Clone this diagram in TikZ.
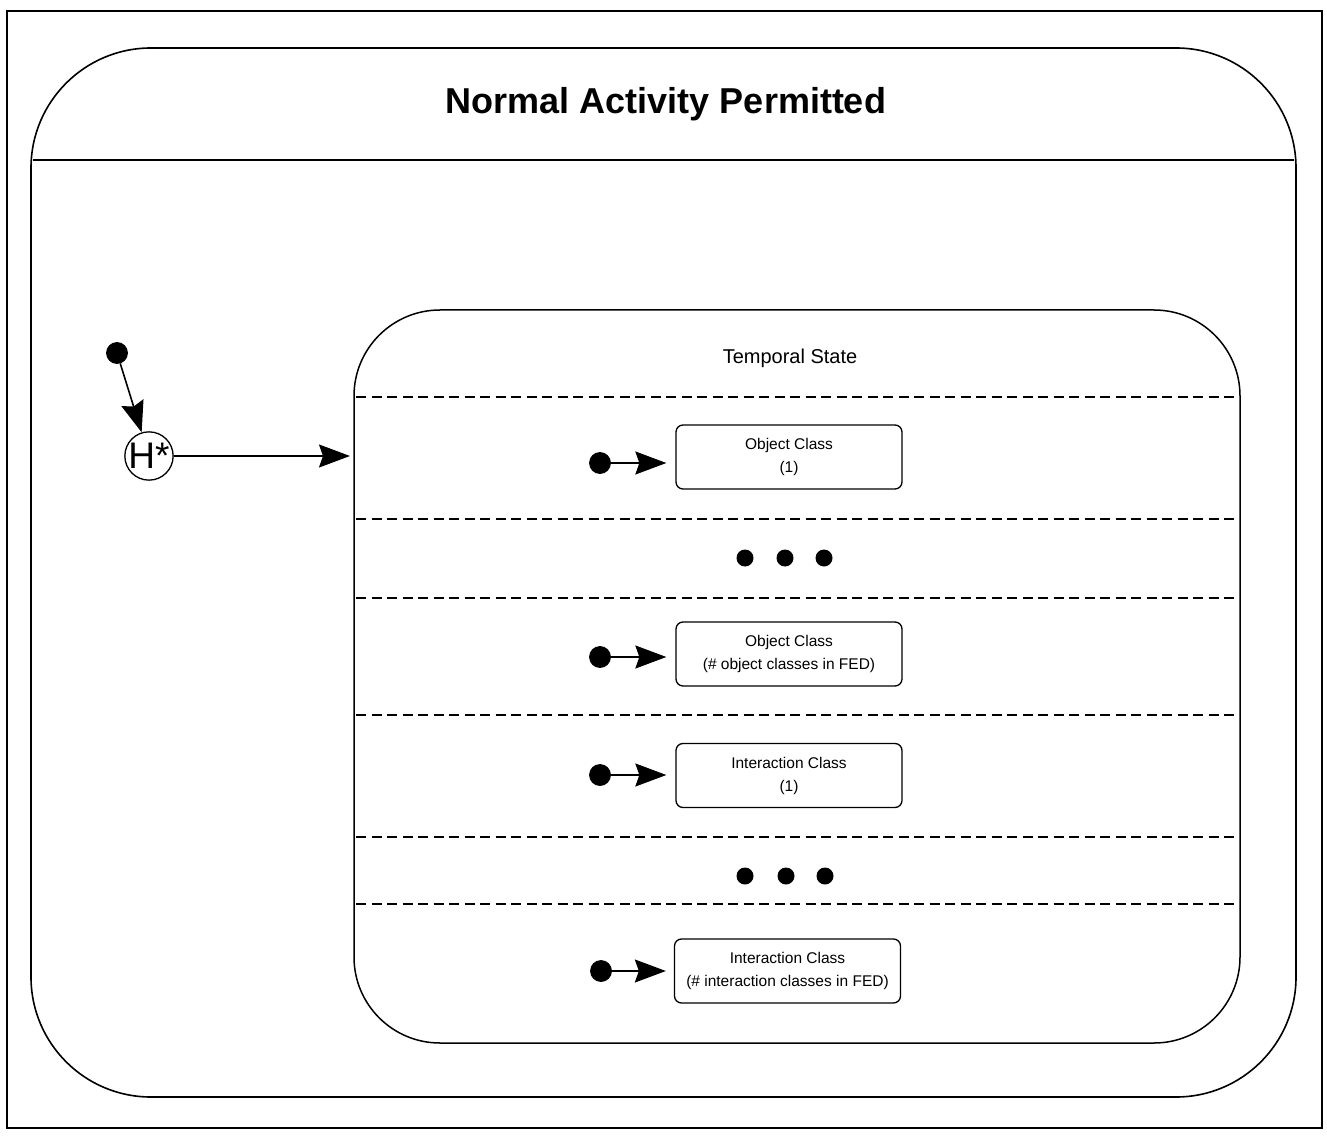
\documentclass[tikz,border=0pt]{standalone}
\usepackage{fontspec}
\setmainfont{Liberation Sans}
\usetikzlibrary{arrows.meta}
\begin{document}
\begin{tikzpicture}[x=1pt,y=-1pt,
  statebox/.style={draw, line width=1.3pt, rounded corners=7pt, minimum width=226pt, minimum height=64pt,
    align=center, font=\fontsize{15.5}{23}\selectfont, inner sep=0pt},
  initdot/.style={circle, fill=black, draw=black, line width=0.8pt, minimum size=21pt, inner sep=0pt},
  ellipsisdot/.style={circle, fill=black, minimum size=17pt, inner sep=0pt},
  flow/.style={line width=1.6pt, -{Stealth[length=31pt,width=23pt,inset=4pt]}},
  region/.style={line width=2.2pt, dash pattern=on 10pt off 5.5pt},
  frame/.style={line width=1.6pt, rounded corners=120pt}
]
\useasboundingbox (0,0) rectangle (1327,1139);
% page border
\draw[line width=2.6pt] (7,11) rectangle (1322,1128);

% outer composite state
\draw[frame] (31,48) rectangle (1296,1097);
\draw[line width=1.5pt] (33,160) -- (1294,160);
\node[font=\fontsize{36}{40}\selectfont\bfseries] (title) at (666,104) {Normal Activity Permitted};

% inner composite state
\draw[line width=1.5pt, rounded corners=86pt] (354,310) rectangle (1240,1043);
\node[font=\fontsize{20}{22}\selectfont] (temporal) at (790,358) {Temporal State};

% concurrent regions
\foreach \yy in {397,519,598,837,904}
  \draw[region] (356,\yy) -- (1237,\yy);
\draw[region] (356,715) -- (1240,715);

% history entry
\node[initdot] (start) at (117,353) {};
\node[circle, draw, line width=1.3pt, minimum size=48pt, inner sep=0pt,
      font=\fontsize{37}{37}\selectfont] (hist) at (149,456) {H*};
\coordinate (inner) at (350,456);
\draw[flow] (start) -- (hist);
\draw[flow] (hist) -- (inner);

% region contents
\node[statebox] (oc1) at (789,457) {Object Class\\(1)};
\node[statebox] (ocn) at (789,654) {Object Class\\(\# object classes in FED)};
\node[statebox] (ic1) at (789,775.5) {Interaction Class\\(1)};
\node[statebox] (icn) at (787.5,971) {Interaction Class\\(\# interaction classes in FED)};

\node[initdot] (s1) at (600,463) {};
\node[initdot] (s2) at (600,657) {};
\node[initdot] (s3) at (600,775) {};
\node[initdot] (s4) at (601,971) {};
\draw[flow, shorten >=9pt] (s1) -- (s1 -| oc1.west);
\draw[flow, shorten >=9pt] (s2) -- (s2 -| ocn.west);
\draw[flow, shorten >=9pt] (s3) -- (s3 -| ic1.west);
\draw[flow, shorten >=8pt] (s4) -- (s4 -| icn.west);

% elided regions
\node[ellipsisdot] (e1) at (745,558) {};
\node[ellipsisdot] (e2) at (785,558) {};
\node[ellipsisdot] (e3) at (824,558) {};
\node[ellipsisdot] (f1) at (745,876) {};
\node[ellipsisdot] (f2) at (786,876) {};
\node[ellipsisdot] (f3) at (825,876) {};
\end{tikzpicture}
\end{document}
